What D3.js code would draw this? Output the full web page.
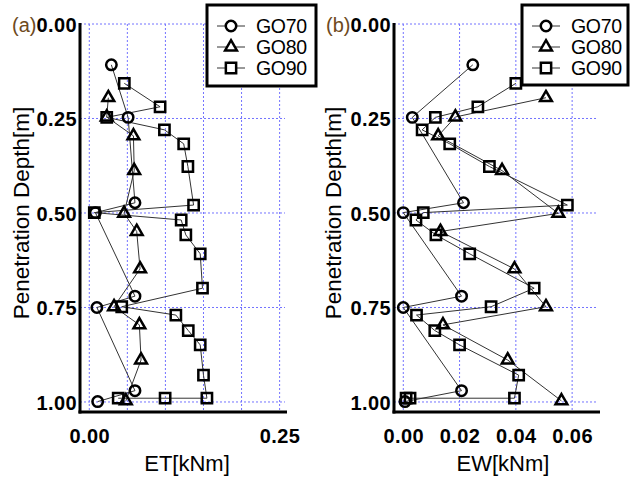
<!DOCTYPE html>
<html><head><meta charset="utf-8">
<script src="https://cdn.jsdelivr.net/npm/d3@7/dist/d3.min.js"></script>
<style>body{margin:0;background:#fff}svg{display:block}</style>
</head><body>
<svg id="c" width="630" height="477"></svg>
<script>
// ---------- data ----------
const seriesNames = ["GO70", "GO80", "GO90"];

const depthGO70 = [0.108, 0.247, 0.473, 0.499, 0.720, 0.750, 0.970, 0.999];
const etGO70    = [0.029, 0.051, 0.060, 0.008, 0.060, 0.010, 0.060, 0.011];
const ewGO70    = [0.0247, 0.0032, 0.0214, 0.0000, 0.0207, 0.0000, 0.0207, 0.0006];

const depthGO80 = [0.195, 0.246, 0.296, 0.388, 0.501, 0.549, 0.648, 0.748, 0.796, 0.889, 0.997];
const etGO80    = [0.025, 0.0229, 0.058, 0.059, 0.0457, 0.0623, 0.0667, 0.0325, 0.0658, 0.068, 0.048];
const ewGO80    = [0.0507, 0.0185, 0.0124, 0.0351, 0.0551, 0.0132, 0.0395, 0.0507, 0.0141, 0.0371, 0.0562];

const depthGO90 = [0.157, 0.219, 0.247, 0.280, 0.317, 0.377, 0.479, 0.499, 0.5185, 0.558, 0.608, 0.699, 0.748, 0.770, 0.811, 0.849, 0.929, 0.990, 0.990, 0.990];
const etGO90    = [0.046, 0.093, 0.0229, 0.0987, 0.124, 0.1295, 0.137, 0.0066, 0.1207, 0.1268, 0.1457, 0.1487, 0.0426, 0.1137, 0.130, 0.1457, 0.150, 0.1545, 0.0996, 0.038];
const ewGO90    = [0.040, 0.0265, 0.0114, 0.0067, 0.0165, 0.0306, 0.0583, 0.0071, 0.0045, 0.0116, 0.0236, 0.0465, 0.0312, 0.0047, 0.0112, 0.020, 0.041, 0.0395, 0.0024, 0.0010];

const depthTicks = [0, 0.25, 0.5, 0.75, 1.0];
const etTicks = [0, 0.25];
const etGrid  = [0, 0.05, 0.10, 0.15, 0.20, 0.25];
const ewTicks = [0, 0.02, 0.04, 0.06];
const ewGrid  = [0, 0.02, 0.04, 0.06];
const etDomain = [-0.0122, 0.2597];
const ewDomain = [-0.0033, 0.0699];
const depthDomain = [0, 1.0265];

// ---------- layout ----------
const svg = d3.select("#c");
const FONT = "'Liberation Sans', Arial, sans-serif";
const plotTop = 24, plotBottom = 412;
const y = d3.scaleLinear().domain(depthDomain).range([plotTop, plotBottom]);

const depths = [depthGO70, depthGO80, depthGO90];
const symbols = [
  d3.symbol().type(d3.symbolCircle).size(86),
  d3.symbol().type(d3.symbolTriangle).size(60),
  d3.symbol().type(d3.symbolSquare).size(106)
];

const panels = [
  { left: 80, right: 287, domain: etDomain, ticks: etTicks, grid: etGrid,
    values: [etGO70, etGO80, etGO90], title: "ET[kNm]", tag: "(a)",
    titleX: 187, yTitleX: 29, legX: 207, legW: 109, legH: 81 },
  { left: 394, right: 600, domain: ewDomain, ticks: ewTicks, grid: ewGrid,
    values: [ewGO70, ewGO80, ewGO90], title: "EW[kNm]", tag: "(b)",
    titleX: 503, yTitleX: 341, legX: 522, legW: 106, legH: 80 }
];

panels.forEach(p => {
  const x = d3.scaleLinear().domain(p.domain).range([p.left, p.right]);
  const g = svg.append("g");

  // grid
  g.append("g").selectAll("line").data(depthTicks).join("line")
    .attr("x1", p.left).attr("x2", p.right - 2)
    .attr("y1", d => y(d)).attr("y2", d => y(d))
    .attr("stroke", "#7373ff").attr("stroke-width", 1).attr("stroke-dasharray", "2,2");
  g.append("g").selectAll("line").data(p.grid).join("line")
    .attr("x1", d => x(d)).attr("x2", d => x(d))
    .attr("y1", plotTop).attr("y2", plotBottom)
    .attr("stroke", "#7373ff").attr("stroke-width", 1).attr("stroke-dasharray", "2,2");

  // axes labels via d3 axes
  const ay = g.append("g").attr("transform", `translate(${p.left},0)`)
    .call(d3.axisLeft(y).tickValues(depthTicks).tickFormat(d3.format(".2f")).tickSize(0).tickPadding(3));
  const ax = g.append("g").attr("transform", `translate(0,${plotBottom})`)
    .call(d3.axisBottom(x).tickValues(p.ticks).tickFormat(d3.format(".2f")).tickSize(0).tickPadding(17));
  [ay, ax].forEach(a => {
    a.select(".domain").remove();
    a.selectAll("text").attr("font-family", FONT).attr("font-size", 20)
      .attr("font-weight", "bold").attr("letter-spacing", "0.4px").attr("fill", "#000");
  });
  ay.selectAll("text").attr("dy", "0.36em");

  // axis lines
  g.append("line").attr("x1", p.left).attr("x2", p.left)
    .attr("y1", plotTop - 1).attr("y2", plotBottom + 1.5)
    .attr("stroke", "#000").attr("stroke-width", 3);
  g.append("line").attr("x1", p.left - 1.5).attr("x2", p.right)
    .attr("y1", plotBottom).attr("y2", plotBottom)
    .attr("stroke", "#000").attr("stroke-width", 3);

  // panel tag (a)/(b) before the 0.00 label
  const firstLbl = ay.selectAll(".tick text").filter(d => d === 0).node();
  const bb = firstLbl.getBBox();
  const tr = firstLbl.parentNode.transform.baseVal.consolidate().matrix;
  g.append("text").attr("x", p.left + bb.x).attr("y", tr.f)
    .attr("dy", "0.36em").attr("text-anchor", "end")
    .attr("font-family", FONT).attr("font-size", 20).attr("fill", "#6e4a1c")
    .text(p.tag);

  // series lines
  const line = d3.line().x(d => x(d[0])).y(d => y(d[1]));
  p.values.forEach((vals, i) => {
    const pts = vals.map((v, k) => [v, depths[i][k]]);
    g.append("path").datum(pts).attr("d", line)
      .attr("fill", "none").attr("stroke", "#333").attr("stroke-width", 1);
  });
  // markers
  p.values.forEach((vals, i) => {
    const pts = vals.map((v, k) => [v, depths[i][k]]);
    g.append("g").selectAll("path").data(pts).join("path")
      .attr("d", symbols[i])
      .attr("transform", d => `translate(${x(d[0])},${y(d[1])})`)
      .attr("fill", "none").attr("stroke", "#000").attr("stroke-width", 2.5);
  });

  // axis titles
  g.append("text").attr("x", p.titleX).attr("y", 471).attr("text-anchor", "middle")
    .attr("font-family", FONT).attr("font-size", 22).attr("fill", "#000").text(p.title);
  g.append("text").attr("transform", `translate(${p.yTitleX},213) rotate(-90)`)
    .attr("text-anchor", "middle")
    .attr("font-family", FONT).attr("font-size", 22.5).attr("fill", "#000")
    .text("Penetration Depth[m]");

  // legend
  const lg = g.append("g").attr("transform", `translate(${p.legX},5)`);
  lg.append("rect").attr("x", 0).attr("y", 0).attr("width", p.legW).attr("height", p.legH)
    .attr("fill", "#fff").attr("stroke", "#000").attr("stroke-width", 3);
  seriesNames.forEach((name, i) => {
    const ry = 21 + i * 21;
    lg.append("line").attr("x1", 10).attr("x2", 38).attr("y1", ry).attr("y2", ry)
      .attr("stroke", "#333").attr("stroke-width", 1);
    lg.append("path").attr("d", symbols[i]).attr("transform", `translate(24,${ry})`)
      .attr("fill", "#fff").attr("stroke", "#000").attr("stroke-width", 2.5);
    lg.append("text").attr("x", 49).attr("y", ry + 7)
      .attr("font-family", FONT).attr("font-size", 19.5).attr("letter-spacing", "-0.3px")
      .attr("fill", "#000").text(name);
  });
});
</script>
</body></html>
